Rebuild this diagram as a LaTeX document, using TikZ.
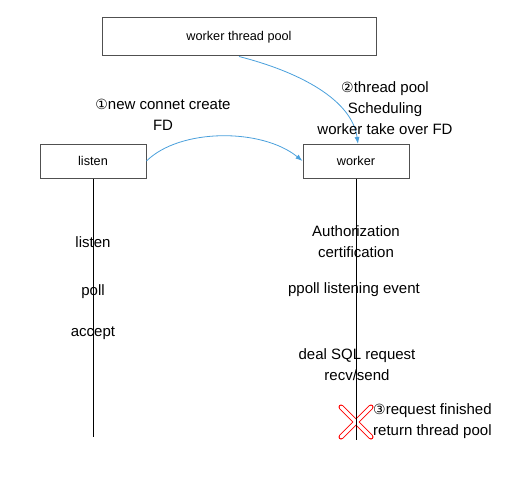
\documentclass[tikz,border=0pt]{standalone}
\usepackage{fontspec}
\setmainfont{Liberation Sans}
\newfontfamily\circfont{DejaVu Sans}
\usetikzlibrary{arrows.meta}
\definecolor{arrowblue}{RGB}{74,160,220}
\definecolor{boxgray}{RGB}{80,80,80}
\tikzset{
  box/.style={draw=boxgray, line width=1pt, minimum width=#1, minimum height=34pt, inner sep=0pt, font=\fontsize{12.7}{14}\selectfont},
  box/.default=106pt,
  lbl/.style={align=center, font=\fontsize{15}{21}\selectfont, inner sep=0pt},
  lifeline/.style={black, line width=0.8pt},
  flow/.style={arrowblue, line width=0.8pt, -{Latex[length=7pt,width=5pt]}},
}
\newcommand{\cnum}[1]{{\circfont\fontsize{14}{14}\selectfont #1}}
\begin{document}
\begin{tikzpicture}[x=1pt,y=-1pt]
\useasboundingbox (0,0) rectangle (524,503);
\node[box=274pt, minimum height=38pt] (pool) at (239,37) {worker thread pool};
\node[box] (listen) at (93,161) {listen};
\node[box] (worker) at (356,161) {worker};
\coordinate (lend) at (93,437);
\coordinate (wend) at (356,440);
% red X
\draw[red, line width=5pt, line cap=round] (341,407) -- (371,437) (341,437) -- (371,407);
\draw[white, line width=3.2pt, line cap=round] (341,407) -- (371,437) (341,437) -- (371,407);
\draw[lifeline] (listen.south) -- (lend);
\draw[lifeline] (worker.south) -- (wend);
% flows
\draw[flow] (listen.east) .. controls (180,128) and (262,128) .. (worker.west);
\draw[flow] (pool.south) .. controls (300,72) and (352,100) .. (358,144);
% labels
\node[lbl] (l1) at (163,115) {\cnum{①}new connet create\\FD};
\node[lbl] (l2) at (385,108) {\cnum{②}thread pool\\Scheduling\\worker take over FD};
\node[lbl] (a1) at (93,242) {listen};
\node[lbl] (a2) at (93,292) {poll};
\node[lbl] (a3) at (93,333) {accept};
\node[lbl] (b1) at (356,242) {Authorization\\certification};
\node[lbl] (b2) at (354,290) {ppoll listening event};
\node[lbl] (b3) at (357,365) {deal SQL request\\recv/send};
\node[lbl, align=left, anchor=west] (b4) at (373,421) {\cnum{③}request finished\\return thread pool};
\end{tikzpicture}
\end{document}
